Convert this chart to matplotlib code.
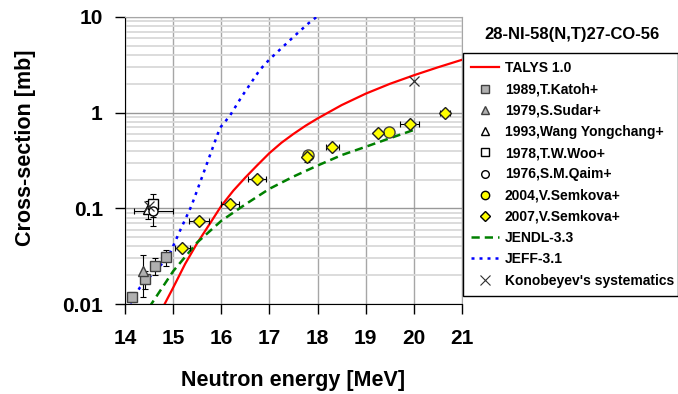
import matplotlib
matplotlib.use('Agg')
import matplotlib.pyplot as plt
from matplotlib.lines import Line2D
from matplotlib.ticker import LogLocator, NullFormatter

plt.rcParams['font.family'] = 'Liberation Sans'
plt.rcParams['font.weight'] = 'bold'

# evaluated / calculated curves
talys_e = [14.75, 15.0, 15.25, 15.5, 15.75, 16.0, 16.25, 16.5, 16.75, 17.0, 17.25, 17.5,
           17.75, 18.0, 18.5, 19.0, 19.5, 20.0, 20.5, 21.0]
talys_xs = [0.0085, 0.0148, 0.0263, 0.0433, 0.0676, 0.106, 0.153, 0.21, 0.283, 0.378, 0.485, 0.60,
            0.73, 0.87, 1.20, 1.58, 2.0, 2.46, 2.98, 3.57]

jendl_e = [14.5, 15.0, 15.5, 16.0, 16.5, 17.0, 17.5, 18.0, 18.5, 19.0, 19.5, 20.0]
jendl_xs = [0.0092, 0.022, 0.044, 0.074, 0.11, 0.16, 0.215, 0.28, 0.36, 0.44, 0.54, 0.66]

jeff_e = [14.0, 14.1, 14.31, 14.9, 15.14, 15.38, 15.62, 15.97, 16.18, 16.42, 16.8, 17.0, 17.5, 17.8, 18.0, 18.1]
jeff_xs = [0.0088, 0.0100, 0.0149, 0.031, 0.058, 0.106, 0.226, 0.69, 0.93, 1.46, 2.8, 3.6, 6.2, 8.5, 10.2, 11.5]

kono_e = [14.5, 20.0]
kono_xs = [0.105, 2.15]

# experimental data
katoh_e = [14.14, 14.41, 14.62, 14.86]
katoh_xs = [0.0119, 0.0182, 0.0251, 0.0311]
katoh_dy = [0.0015, 0.004, 0.005, 0.006]

sudar_e = [14.38]
sudar_xs = [0.0222]
sudar_dy = [0.0105]

wang_e = [14.48]
wang_xs = [0.098]
wang_dy = [0.02]

woo_e = [14.59]
woo_xs = [0.112]
woo_dy = [0.03]

qaim_e = [14.59]
qaim_xs = [0.094]
qaim_dy = [0.028]
qaim_dx = [0.4]

sem04_e = [17.8, 19.48]
sem04_xs = [0.36, 0.624]

sem07_e = [15.19, 15.54, 16.18, 16.74, 17.78, 18.31, 19.26, 19.91, 20.65]
sem07_xs = [0.0383, 0.0738, 0.110, 0.204, 0.345, 0.44, 0.614, 0.762, 0.99]
sem07_dx = [0.16, 0.21, 0.19, 0.18, 0.05, 0.14, 0.05, 0.2, 0.1]
sem07_dy = [0.002, 0.004, 0.006, 0.01, 0.04, 0.02, 0.05, 0.03, 0.05]

xticks = [14, 15, 16, 17, 18, 19, 20, 21]
yticks = [0.01, 0.1, 1, 10]
ytick_labels = ['0.01', '0.1', '1', '10']

fig = plt.figure(figsize=(6.78, 3.94), dpi=100)
ax = fig.add_axes([125 / 678, 1 - 304 / 394, 337 / 678, 287 / 394])

ax.set_yscale('log')
ax.set_xlim(14, 21)
ax.set_ylim(0.01, 10)
ax.set_xticks(xticks)
ax.set_yticks(yticks)
ax.set_yticklabels(ytick_labels)
ax.yaxis.set_minor_locator(LogLocator(base=10, subs=range(2, 10)))
ax.yaxis.set_minor_formatter(NullFormatter())
ax.set_axisbelow(True)
ax.grid(True, which='minor', axis='y', color='#d9d9d9', lw=1.3)
ax.grid(True, which='major', axis='y', color='#999999', lw=1.0)
ax.grid(True, which='major', axis='x', color='#a6a6a6', lw=1.0)
ax.tick_params(which='minor', length=0)
ax.tick_params(which='major', direction='out', length=7, width=1, labelsize=15)
ax.tick_params(axis='x', pad=11)
ax.tick_params(axis='y', pad=9)
for s in ['top', 'right']:
    ax.spines[s].set_color('#a6a6a6')

# curves
ax.plot(talys_e, talys_xs, color='#ff0000', lw=1.6, zorder=3)
ax.plot(jendl_e, jendl_xs, color='#008000', lw=1.8, dashes=(3.3, 2.0), zorder=3)
ax.plot(jeff_e, jeff_xs, color='#0000ff', lw=1.8, dashes=(1.2, 2.0), zorder=3)

eb = dict(ecolor='black', elinewidth=0.8, capsize=2.5, capthick=0.8, ls='none', zorder=5)
ax.errorbar(katoh_e, katoh_xs, yerr=katoh_dy, fmt='s', ms=6.5, mfc='#b0b0b0', mec='#404040', **eb)
ax.errorbar(sudar_e, sudar_xs, yerr=sudar_dy, fmt='^', ms=6.5, mfc='#b0b0b0', mec='#404040', **eb)
ax.errorbar(wang_e, wang_xs, yerr=wang_dy, fmt='^', ms=6.5, mfc='white', mec='black', **eb)
ax.errorbar(woo_e, woo_xs, yerr=woo_dy, fmt='s', ms=6.5, mfc='white', mec='black', **eb)
ax.errorbar(qaim_e, qaim_xs, yerr=qaim_dy, xerr=qaim_dx, fmt='o', ms=6.5, mfc='white', mec='black', **eb)
ax.errorbar(sem04_e, sem04_xs, fmt='o', ms=8, mfc='#ffff00', mec='#404040', **eb)
ax.errorbar(sem07_e, sem07_xs, yerr=sem07_dy, xerr=sem07_dx, fmt='D', ms=6, mfc='#ffff00', mec='#202020', **eb)
ax.plot(kono_e, kono_xs, 'x', color='#303030', ms=7, mew=0.9, zorder=6)

ax.set_xlabel('Neutron energy [MeV]', fontsize=15.5, weight='bold')
ax.set_ylabel('Cross-section [mb]', fontsize=15.5, weight='bold')
ax.xaxis.set_label_coords(0.5, -0.23)
ax.yaxis.set_label_coords(-0.265, 0.545)

fig.text(572 / 678, 1 - 34 / 394, '28-NI-58(N,T)27-CO-56', ha='center', va='center',
         fontsize=12, weight='bold')

# legend
handles = [
    Line2D([], [], color='#ff0000', lw=1.6),
    Line2D([], [], ls='none', marker='s', ms=5.5, mfc='#b0b0b0', mec='#404040'),
    Line2D([], [], ls='none', marker='^', ms=5.5, mfc='#b0b0b0', mec='#404040'),
    Line2D([], [], ls='none', marker='^', ms=5.5, mfc='white', mec='black'),
    Line2D([], [], ls='none', marker='s', ms=5.5, mfc='white', mec='black'),
    Line2D([], [], ls='none', marker='o', ms=5.5, mfc='white', mec='black'),
    Line2D([], [], ls='none', marker='o', ms=6, mfc='#ffff00', mec='black'),
    Line2D([], [], ls='none', marker='D', ms=5, mfc='#ffff00', mec='black'),
    Line2D([], [], color='#008000', lw=1.8, dashes=(3.3, 2.0)),
    Line2D([], [], color='#0000ff', lw=1.8, dashes=(1.2, 2.0)),
    Line2D([], [], ls='none', marker='x', ms=6.5, mew=0.8, color='#303030'),
]
labels = ['TALYS 1.0', '1989,T.Katoh+', '1979,S.Sudar+', '1993,Wang Yongchang+',
          '1978,T.W.Woo+', '1976,S.M.Qaim+', '2004,V.Semkova+', '2007,V.Semkova+',
          'JENDL-3.3', 'JEFF-3.1', "Konobeyev's systematics"]
leg = ax.legend(handles, labels, loc='upper left',
                bbox_to_anchor=(463 / 678, 1 - 53 / 394, 215 / 678, 0),
                bbox_transform=fig.transFigure, mode='expand', borderaxespad=0,
                fancybox=False, edgecolor='black', framealpha=1, fontsize=10,
                handlelength=2.0, handletextpad=0.4, labelspacing=0.52, borderpad=0.6)
leg.get_frame().set_linewidth(1.0)

plt.savefig('out.png', dpi=100)
